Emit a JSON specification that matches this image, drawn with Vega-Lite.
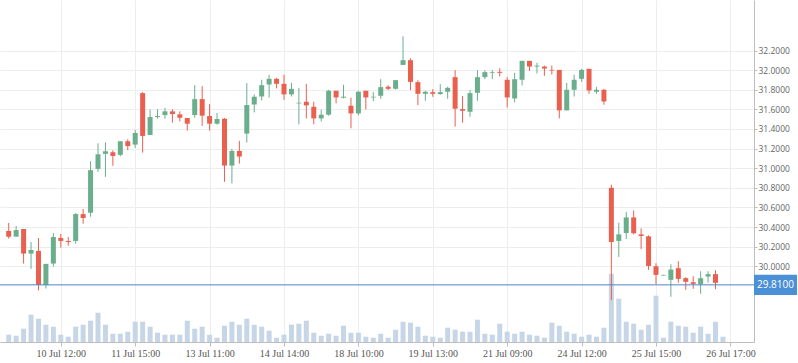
{
  "$schema": "https://vega.github.io/schema/vega-lite/v6.json",
  "width": 754,
  "height": 342,
  "autosize": {"type": "none"},
  "padding": {"left": 0, "top": 0, "right": 44, "bottom": 21},
  "background": "white",
  "config": {
    "view": {"stroke": null},
    "axis": {"domainColor": "#bdbdbd", "tickColor": "#bdbdbd", "gridColor": "#ededed", "gridWidth": 1}
  },
  "data": {
    "values": [
      {"i": 0, "open": 30.359, "high": 30.441, "low": 30.281, "close": 30.302, "volume": 73},
      {"i": 1, "open": 30.302, "high": 30.410, "low": 30.300, "close": 30.369, "volume": 63},
      {"i": 2, "open": 30.380, "high": 30.380, "low": 30.027, "close": 30.129, "volume": 133},
      {"i": 3, "open": 30.129, "high": 30.247, "low": 29.973, "close": 30.166, "volume": 273},
      {"i": 4, "open": 30.156, "high": 30.288, "low": 29.753, "close": 29.810, "volume": 233},
      {"i": 5, "open": 29.810, "high": 30.024, "low": 29.773, "close": 30.024, "volume": 173},
      {"i": 6, "open": 30.027, "high": 30.339, "low": 29.997, "close": 30.298, "volume": 153},
      {"i": 7, "open": 30.288, "high": 30.329, "low": 30.190, "close": 30.258, "volume": 73},
      {"i": 8, "open": 30.258, "high": 30.298, "low": 30.210, "close": 30.247, "volume": 53},
      {"i": 9, "open": 30.258, "high": 30.542, "low": 30.231, "close": 30.532, "volume": 153},
      {"i": 10, "open": 30.532, "high": 30.583, "low": 30.434, "close": 30.492, "volume": 173},
      {"i": 11, "open": 30.546, "high": 31.071, "low": 30.505, "close": 30.980, "volume": 213},
      {"i": 12, "open": 30.993, "high": 31.254, "low": 30.963, "close": 31.142, "volume": 293},
      {"i": 13, "open": 31.146, "high": 31.264, "low": 30.912, "close": 31.173, "volume": 173},
      {"i": 14, "open": 31.163, "high": 31.183, "low": 31.024, "close": 31.125, "volume": 83},
      {"i": 15, "open": 31.136, "high": 31.275, "low": 31.122, "close": 31.275, "volume": 83},
      {"i": 16, "open": 31.275, "high": 31.295, "low": 31.183, "close": 31.227, "volume": 103},
      {"i": 17, "open": 31.241, "high": 31.390, "low": 31.207, "close": 31.359, "volume": 203},
      {"i": 18, "open": 31.766, "high": 31.776, "low": 31.159, "close": 31.329, "volume": 203},
      {"i": 19, "open": 31.339, "high": 31.597, "low": 31.339, "close": 31.522, "volume": 153},
      {"i": 20, "open": 31.522, "high": 31.603, "low": 31.505, "close": 31.532, "volume": 93},
      {"i": 21, "open": 31.542, "high": 31.614, "low": 31.505, "close": 31.580, "volume": 73},
      {"i": 22, "open": 31.580, "high": 31.603, "low": 31.464, "close": 31.553, "volume": 73},
      {"i": 23, "open": 31.549, "high": 31.580, "low": 31.478, "close": 31.515, "volume": 73},
      {"i": 24, "open": 31.512, "high": 31.512, "low": 31.383, "close": 31.454, "volume": 213},
      {"i": 25, "open": 31.542, "high": 31.847, "low": 31.515, "close": 31.705, "volume": 133},
      {"i": 26, "open": 31.705, "high": 31.837, "low": 31.431, "close": 31.536, "volume": 153},
      {"i": 27, "open": 31.532, "high": 31.654, "low": 31.383, "close": 31.454, "volume": 73},
      {"i": 28, "open": 31.454, "high": 31.563, "low": 31.444, "close": 31.502, "volume": 43},
      {"i": 29, "open": 31.505, "high": 31.512, "low": 30.861, "close": 31.027, "volume": 163},
      {"i": 30, "open": 31.027, "high": 31.197, "low": 30.844, "close": 31.176, "volume": 203},
      {"i": 31, "open": 31.176, "high": 31.278, "low": 31.047, "close": 31.119, "volume": 173},
      {"i": 32, "open": 31.353, "high": 31.868, "low": 31.261, "close": 31.644, "volume": 233},
      {"i": 33, "open": 31.651, "high": 31.753, "low": 31.569, "close": 31.729, "volume": 173},
      {"i": 34, "open": 31.732, "high": 31.902, "low": 31.692, "close": 31.847, "volume": 153},
      {"i": 35, "open": 31.854, "high": 31.953, "low": 31.722, "close": 31.912, "volume": 113},
      {"i": 36, "open": 31.912, "high": 31.922, "low": 31.814, "close": 31.861, "volume": 43},
      {"i": 37, "open": 31.861, "high": 31.953, "low": 31.698, "close": 31.753, "volume": 73},
      {"i": 38, "open": 31.753, "high": 31.871, "low": 31.732, "close": 31.810, "volume": 173},
      {"i": 39, "open": 31.661, "high": 31.820, "low": 31.447, "close": 31.668, "volume": 183},
      {"i": 40, "open": 31.678, "high": 31.861, "low": 31.508, "close": 31.641, "volume": 213},
      {"i": 41, "open": 31.627, "high": 31.678, "low": 31.447, "close": 31.508, "volume": 93},
      {"i": 42, "open": 31.508, "high": 31.597, "low": 31.478, "close": 31.546, "volume": 63},
      {"i": 43, "open": 31.546, "high": 31.800, "low": 31.536, "close": 31.790, "volume": 83},
      {"i": 44, "open": 31.790, "high": 31.790, "low": 31.661, "close": 31.722, "volume": 63},
      {"i": 45, "open": 31.719, "high": 31.851, "low": 31.712, "close": 31.729, "volume": 163},
      {"i": 46, "open": 31.637, "high": 31.719, "low": 31.407, "close": 31.559, "volume": 93},
      {"i": 47, "open": 31.559, "high": 31.790, "low": 31.539, "close": 31.780, "volume": 93},
      {"i": 48, "open": 31.790, "high": 31.790, "low": 31.600, "close": 31.722, "volume": 53},
      {"i": 49, "open": 31.722, "high": 31.776, "low": 31.685, "close": 31.729, "volume": 43},
      {"i": 50, "open": 31.739, "high": 31.908, "low": 31.708, "close": 31.827, "volume": 83},
      {"i": 51, "open": 31.831, "high": 31.847, "low": 31.797, "close": 31.810, "volume": 43},
      {"i": 52, "open": 31.810, "high": 31.898, "low": 31.803, "close": 31.898, "volume": 123},
      {"i": 53, "open": 32.054, "high": 32.346, "low": 32.054, "close": 32.102, "volume": 203},
      {"i": 54, "open": 32.102, "high": 32.122, "low": 31.797, "close": 31.881, "volume": 193},
      {"i": 55, "open": 31.878, "high": 31.898, "low": 31.644, "close": 31.759, "volume": 153},
      {"i": 56, "open": 31.759, "high": 31.790, "low": 31.688, "close": 31.780, "volume": 63},
      {"i": 57, "open": 31.776, "high": 31.807, "low": 31.729, "close": 31.759, "volume": 53},
      {"i": 58, "open": 31.756, "high": 31.858, "low": 31.749, "close": 31.776, "volume": 43},
      {"i": 59, "open": 31.780, "high": 31.831, "low": 31.708, "close": 31.820, "volume": 143},
      {"i": 60, "open": 31.929, "high": 32.000, "low": 31.424, "close": 31.607, "volume": 123},
      {"i": 61, "open": 31.603, "high": 31.736, "low": 31.464, "close": 31.586, "volume": 103},
      {"i": 62, "open": 31.576, "high": 31.797, "low": 31.525, "close": 31.766, "volume": 103},
      {"i": 63, "open": 31.769, "high": 32.000, "low": 31.688, "close": 31.929, "volume": 223},
      {"i": 64, "open": 31.929, "high": 32.000, "low": 31.908, "close": 31.980, "volume": 83},
      {"i": 65, "open": 31.973, "high": 32.000, "low": 31.908, "close": 31.980, "volume": 73},
      {"i": 66, "open": 31.983, "high": 32.020, "low": 31.936, "close": 31.973, "volume": 183},
      {"i": 67, "open": 31.902, "high": 31.929, "low": 31.620, "close": 31.722, "volume": 103},
      {"i": 68, "open": 31.712, "high": 31.973, "low": 31.671, "close": 31.908, "volume": 83},
      {"i": 69, "open": 31.902, "high": 32.095, "low": 31.844, "close": 32.095, "volume": 103},
      {"i": 70, "open": 32.095, "high": 32.095, "low": 31.993, "close": 32.037, "volume": 73},
      {"i": 71, "open": 32.037, "high": 32.075, "low": 31.966, "close": 32.047, "volume": 63},
      {"i": 72, "open": 32.037, "high": 32.047, "low": 31.942, "close": 32.017, "volume": 43},
      {"i": 73, "open": 32.003, "high": 32.047, "low": 31.956, "close": 31.997, "volume": 193},
      {"i": 74, "open": 32.003, "high": 32.003, "low": 31.508, "close": 31.590, "volume": 163},
      {"i": 75, "open": 31.590, "high": 31.871, "low": 31.590, "close": 31.800, "volume": 103},
      {"i": 76, "open": 31.800, "high": 31.953, "low": 31.732, "close": 31.902, "volume": 83},
      {"i": 77, "open": 31.912, "high": 32.014, "low": 31.881, "close": 32.003, "volume": 53},
      {"i": 78, "open": 32.014, "high": 32.014, "low": 31.759, "close": 31.793, "volume": 73},
      {"i": 79, "open": 31.780, "high": 31.831, "low": 31.759, "close": 31.800, "volume": 53},
      {"i": 80, "open": 31.800, "high": 31.810, "low": 31.647, "close": 31.681, "volume": 143},
      {"i": 81, "open": 30.800, "high": 30.831, "low": 29.655, "close": 30.247, "volume": 683},
      {"i": 82, "open": 30.258, "high": 30.444, "low": 30.095, "close": 30.325, "volume": 433},
      {"i": 83, "open": 30.339, "high": 30.553, "low": 30.278, "close": 30.498, "volume": 203},
      {"i": 84, "open": 30.498, "high": 30.569, "low": 30.325, "close": 30.336, "volume": 183},
      {"i": 85, "open": 30.325, "high": 30.386, "low": 30.176, "close": 30.308, "volume": 123},
      {"i": 86, "open": 30.305, "high": 30.315, "low": 29.963, "close": 30.003, "volume": 173},
      {"i": 87, "open": 30.000, "high": 30.031, "low": 29.817, "close": 29.912, "volume": 463},
      {"i": 88, "open": 29.905, "high": 29.912, "low": 29.905, "close": 29.912, "volume": 43},
      {"i": 89, "open": 29.861, "high": 30.020, "low": 29.688, "close": 29.966, "volume": 203},
      {"i": 90, "open": 29.980, "high": 30.051, "low": 29.831, "close": 29.871, "volume": 163},
      {"i": 91, "open": 29.878, "high": 29.888, "low": 29.759, "close": 29.841, "volume": 153},
      {"i": 92, "open": 29.837, "high": 29.898, "low": 29.769, "close": 29.820, "volume": 93},
      {"i": 93, "open": 29.817, "high": 29.949, "low": 29.719, "close": 29.878, "volume": 153},
      {"i": 94, "open": 29.895, "high": 29.949, "low": 29.834, "close": 29.919, "volume": 83},
      {"i": 95, "open": 29.919, "high": 29.959, "low": 29.766, "close": 29.831, "volume": 203},
      {"i": 96, "open": null, "high": null, "low": null, "close": null, "volume": 53}
    ]
  },
  "layer": [
    {
      "mark": {"type": "bar", "width": 5, "color": "#c6d6e7"},
      "encoding": {
        "x": {
          "field": "i", "type": "quantitative",
          "scale": {"domain": [-0.5, 99.5], "nice": false, "zero": false},
          "axis": {
            "title": null,
            "orient": "bottom",
            "values": [7, 17, 27, 37, 47, 57, 67, 77, 87, 97],
            "tickCount": 30,
            "labelExpr": "['10 Jul 12:00','11 Jul 15:00','13 Jul 11:00','14 Jul 14:00','18 Jul 10:00','19 Jul 13:00','21 Jul 09:00','24 Jul 12:00','25 Jul 15:00','26 Jul 17:00'][round((datum.value-7)/10)]",
            "labelFont": "Liberation Serif",
            "labelFontSize": 10,
            "labelColor": "#555555",
            "tickSize": 4,
            "labelPadding": 2,
            "grid": true,
            "labelFlush": false,
            "labelOverlap": false
          }
        },
        "y": {
          "field": "volume", "type": "quantitative",
          "scale": {"domain": [0, 3420], "nice": false},
          "axis": null
        }
      }
    },
    {
      "layer": [
        {
          "mark": {"type": "rule", "strokeWidth": 1},
          "encoding": {
            "x": {"field": "i", "type": "quantitative", "scale": {"domain": [-0.5, 99.5], "nice": false, "zero": false}},
            "y": {
              "field": "low", "type": "quantitative",
              "scale": {"domain": [29.227, 32.716], "nice": false, "zero": false},
              "axis": {
                "title": null,
                "orient": "right",
                "values": [30.0, 30.2, 30.4, 30.6, 30.8, 31.0, 31.2, 31.4, 31.6, 31.8, 32.0, 32.2],
                "tickCount": 30,
                "format": ".4f",
                "labelFont": "Open Sans",
                "labelFontSize": 8.5,
                "labelColor": "#666666",
                "labelOverlap": false,
                "labelFlush": false,
                "tickSize": 3,
                "labelPadding": 1,
                "grid": true
              }
            },
            "y2": {"field": "high"},
            "color": {"condition": {"test": "datum.close > datum.open", "value": "#6aae8e"}, "value": "#e9604f"}
          }
        },
        {
          "mark": {"type": "bar", "width": 5},
          "encoding": {
            "x": {"field": "i", "type": "quantitative"},
            "y": {"field": "open", "type": "quantitative"},
            "y2": {"field": "close"},
            "color": {"condition": {"test": "datum.close > datum.open", "value": "#6aae8e"}, "value": "#e9604f"}
          }
        },
        {
          "data": {"values": [{"last": 29.81}]},
          "layer": [
            {
              "mark": {"type": "rule", "color": "#4f86c6", "strokeWidth": 1},
              "encoding": {"y": {"field": "last", "type": "quantitative"}}
            },
            {
              "mark": {"type": "point", "shape": "M-1,-0.474H1V0.474H-1Z", "size": 1849, "filled": true, "opacity": 1, "color": "#4b8fd6", "strokeWidth": 0},
              "encoding": {
                "x": {"value": {"expr": "width + 21.5"}},
                "y": {"field": "last", "type": "quantitative"}
              }
            },
            {
              "mark": {"type": "text", "color": "white", "font": "Open Sans", "fontSize": 10, "align": "center", "baseline": "middle"},
              "encoding": {
                "x": {"value": {"expr": "width + 21.5"}},
                "y": {"field": "last", "type": "quantitative"},
                "text": {"field": "last", "type": "quantitative", "format": ".4f"}
              }
            }
          ]
        }
      ]
    }
  ],
  "resolve": {"scale": {"y": "independent"}}
}
